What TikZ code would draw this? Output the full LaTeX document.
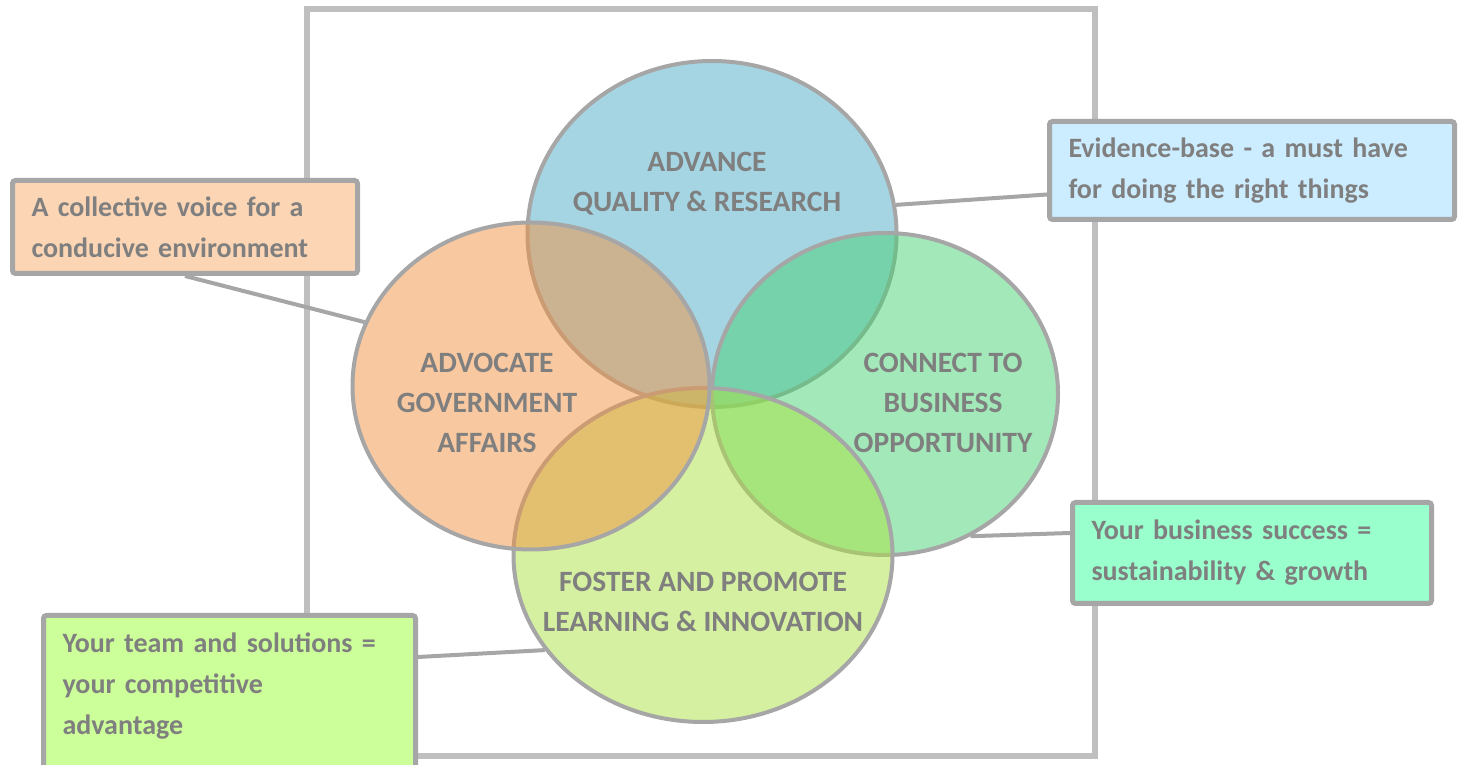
\documentclass[tikz,border=0pt]{standalone}
\usepackage{fontspec}
\setmainfont{Carlito}
\usetikzlibrary{shapes.geometric}

\definecolor{rimgray}{RGB}{166,166,166}
\definecolor{framegray}{RGB}{191,191,191}
\definecolor{txtgray}{RGB}{127,127,127}
\definecolor{advblue}{RGB}{165,213,226}
\definecolor{advorange}{RGB}{241,145,65}
\definecolor{congreen}{RGB}{71,209,115}
\definecolor{fostgreen}{RGB}{171,225,65}
\definecolor{voicefill}{RGB}{252,213,180}
\definecolor{evidfill}{RGB}{204,236,255}
\definecolor{succfill}{RGB}{153,255,204}
\definecolor{teamfill}{RGB}{204,255,153}

\begin{document}
\begin{tikzpicture}[x=1pt,y=1pt,
  venn/.style={draw=rimgray, line width=4pt, ellipse, inner sep=0pt},
  lbl/.style={text=txtgray, font=\bfseries\fontsize{29.5}{40}\selectfont, align=center},
  callout/.style={draw=rimgray, line width=5pt, rounded corners=3pt, anchor=north west,
    inner xsep=19pt, align=left, text=txtgray, font=\bfseries\fontsize{28}{41}\selectfont},
  link/.style={draw=rimgray, line width=4pt}]
\useasboundingbox (0,0) rectangle (1461,765);
\draw[framegray, line width=6pt] (307,9) rectangle (1095,756);

% the four circles
\node[venn, fill=advblue, minimum width=369pt, minimum height=346pt] (advance) at (712,531) {};
\node[venn, fill=congreen, fill opacity=0.5, minimum width=346pt, minimum height=322pt] (connect) at (885,371) {};
\node[venn, fill=fostgreen, fill opacity=0.5, minimum width=379pt, minimum height=334pt] (foster) at (703,210) {};
\node[venn, fill=advorange, fill opacity=0.5, minimum width=357pt, minimum height=327pt] (advocate) at (531,379) {};

\node[lbl] (advancetxt) at (707,581) {ADVANCE\\QUALITY \& RESEARCH};
\node[lbl] (advocatetxt) at (487,362) {ADVOCATE\\GOVERNMENT\\AFFAIRS};
\node[lbl] (connecttxt) at (943,362) {CONNECT TO\\BUSINESS\\OPPORTUNITY};
\node[lbl] (fostertxt) at (703,163) {FOSTER AND PROMOTE\\LEARNING \& INNOVATION};

% callouts
\node[callout, fill=voicefill, text width=307pt, minimum height=93pt] (voicebox) at (10,587)
  {A collective voice for a\\conducive environment};
\node[callout, fill=evidfill, text width=367pt, minimum height=98pt] (evidbox) at (1047,646)
  {Evidence-base - a must have\\for doing the right things};
\node[callout, fill=succfill, text width=321pt, minimum height=101pt] (succbox) at (1070,265)
  {Your business success =\\sustainability \& growth};
\node[callout, fill=teamfill, text width=334pt, inner ysep=17pt, text depth=110pt] (teambox) at (41,152)
  {Your team and solutions =\\your competitive\\advantage};

\draw[link] (voicebox.south) -- (advocate.159);
\draw[link] ([yshift=-24pt]evidbox.west) -- (advance.9);
\draw[link] ([yshift=20pt]succbox.west) -- (connect.-59);
\draw[link] (teambox.east |- 0,108) -- (foster.211);
\end{tikzpicture}
\end{document}
